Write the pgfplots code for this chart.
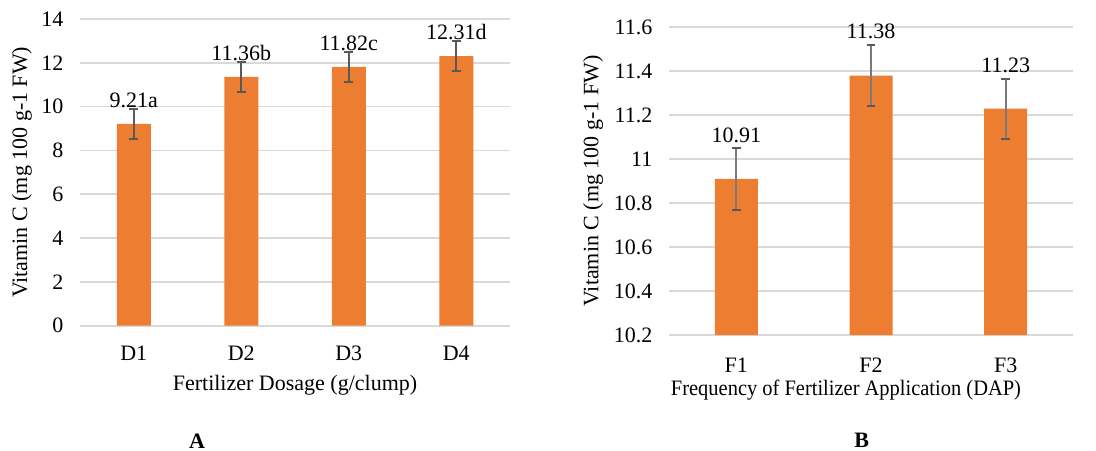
\documentclass[border=0pt]{standalone}
\usepackage{fontspec}
\setmainfont{Liberation Serif}
\newfontfamily\narrowserif[FakeStretch=0.93]{Liberation Serif}
\usepackage{pgfplots}
\pgfplotsset{compat=1.18}
\definecolor{barc}{HTML}{ED7D31}
\definecolor{errc}{HTML}{595959}
\definecolor{gridc}{HTML}{D9D9D9}
\newcommand{\fs}{\fontsize{11}{13}\selectfont}
\pgfplotsset{
  vitc/.style={
    scale only axis,
    anchor=south west,
    axis line style={draw=none},
    major tick style={draw=none},
    ymajorgrids,
    major grid style={draw=gridc, line width=0.8pt},
    /pgf/number format/assume math mode=true,
    tick label style={font=\fs},
    yticklabel style={anchor=east, xshift=-4.8pt},
    label style={font=\fs},
    ylabel style={anchor=center, rotate=0},
    xtick={0,1,2},
  }
}
\begin{document}
\begin{tikzpicture}
\useasboundingbox (0,0) rectangle (548pt,225pt);
% ---------------- Chart A ----------------
\begin{axis}[vitc,
  at={(40pt,62.15pt)},
  width=215pt, height=153.35pt,
  xmin=-0.5, xmax=3.5,
  ymin=0, ymax=14, ytick={0,2,...,14},
  xtick={0,1,2,3}, xticklabels={D1,D2,D3,D4},
  xticklabel style={anchor=center, yshift=-13.7pt},
  ylabel={Vitamin C (mg 100 g-1 FW)},
  ylabel style={at={(axis description cs:-0.135,0.5)}},
  xlabel={Fertilizer Dosage (g/clump)},
  xlabel style={at={(axis description cs:0.5,0)}, anchor=center, yshift=-29.7pt},
  clip=false,
]
\addplot[ybar, bar width=17pt, fill=barc, draw=none,
  error bars/.cd, y dir=both, y explicit,
  error bar style={line width=1pt, color=errc},
  error mark options={rotate=90, mark size=2.3pt, line width=1pt, color=errc}]
  coordinates {(0,9.21) +- (0,0.68) (1,11.36) +- (0,0.69) (2,11.82) +- (0,0.68) (3,12.31) +- (0,0.68)};
\addplot[draw=none, mark=none, nodes near coords, point meta=explicit symbolic,
  every node near coord/.append style={font=\fs, inner sep=0pt, yshift=0.3pt}]
  coordinates {(0,9.89) [9.21a] (1,12.05) [11.36b] (2,12.50) [11.82c] (3,12.99) [12.31d]};
\end{axis}
% ---------------- Chart B ----------------
\begin{axis}[vitc,
  at={(334.5pt,57.5pt)},
  width=202pt, height=153.85pt,
  xmin=-0.5, xmax=2.5,
  ymin=10.2, ymax=11.6,
  ytick={10.2,10.4,10.6,10.8,11,11.2,11.4,11.6},
  yticklabels={10.2,10.4,10.6,10.8,11,11.2,11.4,11.6},
  xtick={0,1,2}, xticklabels={F1,F2,F3},
  xticklabel style={anchor=center, yshift=-15pt},
  ylabel={Vitamin C (mg 100 g-1 FW)},
  ylabel style={at={(axis description cs:-0.188,0.5)}},
  xlabel={Frequency of Fertilizer Application (DAP)},
  xlabel style={at={(axis description cs:0.438,0)}, anchor=center, yshift=-27.5pt, font=\fs\narrowserif},
]
\addplot[ybar, bar width=21.5pt, fill=barc, draw=none,
  error bars/.cd, y dir=both, y explicit,
  error bar style={line width=0.9pt, color=errc!80},
  error mark options={rotate=90, mark size=2.2pt, line width=1pt, color=errc}]
  coordinates {(0,10.91) +- (0,0.14) (1,11.38) +- (0,0.14) (2,11.23) +- (0,0.136)};
\addplot[draw=none, mark=none, nodes near coords, point meta=explicit symbolic,
  every node near coord/.append style={font=\fs, inner sep=0pt, yshift=2.6pt}]
  coordinates {(0,11.05) [10.91] (1,11.52) [11.38] (2,11.366) [11.23]};
\end{axis}
\node[font=\fs\bfseries] at (98.5pt,4.6pt) {A};
\node[font=\fs\bfseries] at (430.8pt,5pt) {B};
\end{tikzpicture}
\end{document}
